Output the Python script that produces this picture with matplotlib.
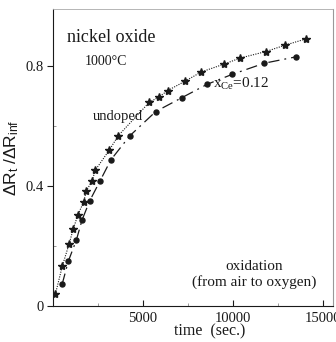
import matplotlib
matplotlib.use("Agg")
import matplotlib.pyplot as plt

plt.rcParams['font.family'] = 'Liberation Serif'
plt.rcParams['mathtext.fontset'] = 'custom'
plt.rcParams['mathtext.rm'] = 'Liberation Serif'
plt.rcParams['mathtext.it'] = 'Liberation Serif:italic'
plt.rcParams['mathtext.sf'] = 'Liberation Sans'

# undoped nickel oxide (stars)
t_undoped = [128, 517, 889, 1128, 1372, 1706, 1833, 2167, 2350, 3128, 3628,
             5350, 5872, 6372, 7333, 8239, 9500, 10389, 11833, 12889, 14056]
r_undoped = [0.040, 0.134, 0.207, 0.258, 0.303, 0.348, 0.382, 0.417, 0.453, 0.520, 0.568,
             0.679, 0.696, 0.718, 0.749, 0.780, 0.806, 0.826, 0.848, 0.869, 0.890]

# x_Ce = 0.12 (dots)
t_ce = [500, 850, 1294, 1611, 2039, 2611, 3211, 4261, 5706, 7150, 8572, 9961, 11739, 13483]
r_ce = [0.072, 0.150, 0.220, 0.287, 0.351, 0.417, 0.487, 0.567, 0.648, 0.694, 0.739, 0.772, 0.809, 0.830]

xticks = [5000, 10000, 15000]
yticks = [0, 0.4, 0.8]

fig = plt.figure(figsize=(3.36, 3.42), dpi=100)
ax = fig.add_axes([0.158, 0.105, 0.833, 0.869])

ink = '#1a1a1a'
ax.plot(t_undoped, r_undoped, linestyle=(0, (1, 1.2)), linewidth=0.8, color=ink,
        marker='*', markersize=6, markerfacecolor=ink, markeredgecolor=ink)
ax.plot(t_ce, r_ce, linestyle=(0, (9, 4, 1.5, 4)), linewidth=0.9, color=ink,
        marker='o', markersize=3.6, markerfacecolor=ink, markeredgecolor=ink)

ax.set_xlim(0, 15560)
ax.set_ylim(0, 0.99)
ax.set_xticks(xticks)
ax.set_xticklabels(['5000', '10000', '15000'])
ax.set_yticks(yticks)
ax.set_yticklabels(['0', '0.4', '0.8'])
ax.set_xticks([2500, 7500, 12500], minor=True)
ax.set_yticks([0.2, 0.6], minor=True)
ax.tick_params(axis='x', direction='in', length=4, labelsize=10.5, pad=4, colors=ink)
ax.tick_params(axis='y', direction='out', length=4, labelsize=10.5, pad=3, colors=ink)
ax.tick_params(which='minor', direction='in', length=2, colors='#888888')

ax.spines['left'].set_color(ink)
ax.spines['bottom'].set_color(ink)
ax.spines['top'].set_color('#aaaaaa')
ax.spines['right'].set_color('#999999')
ax.spines['top'].set_linewidth(0.6)

ax.set_xlabel('time  (sec.)', fontsize=11.5, color=ink)
ax.xaxis.set_label_coords(0.56, -0.058)
ax.set_ylabel(r'$\mathsf{\Delta R_t\ /\Delta R_{inf}}$', fontsize=12.5, labelpad=3, color=ink)

ax.text(800, 0.895, 'nickel oxide', fontsize=13, color=ink, va='center')
ax.text(1750, 0.815, '1000°C', fontsize=10, color=ink, va='center')
ax.text(2200, 0.63, 'undoped', fontsize=10.5, color=ink, va='center')
ax.text(8900, 0.74, r'x$_{\mathrm{Ce}}$=0.12', fontsize=11, color=ink, va='center')
ax.text(11170, 0.133, 'oxidation', fontsize=11, color=ink, ha='center', va='center')
ax.text(11170, 0.08, '(from air to oxygen)', fontsize=11, color=ink, ha='center', va='center')

fig.savefig('out.png', dpi=100)
